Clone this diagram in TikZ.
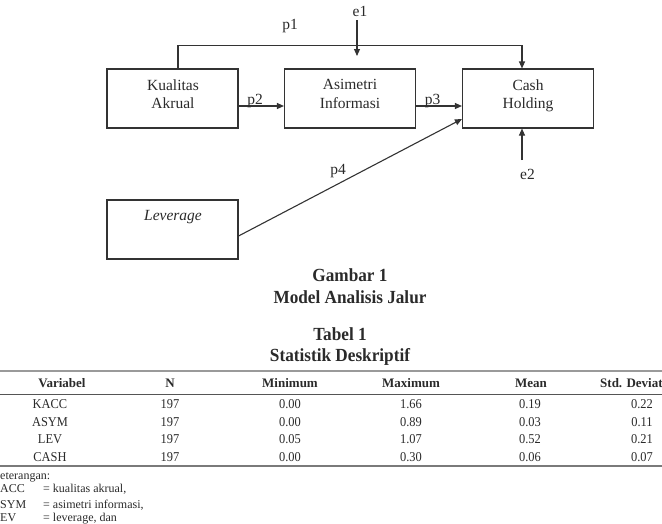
\documentclass[tikz,border=0pt]{standalone}
\usepackage{fontspec}
\setmainfont{Liberation Serif}
\newfontfamily\titlefont[FakeStretch=0.93]{Liberation Serif}
\newfontfamily\tabfont[FakeStretch=0.92]{Liberation Serif}
\usetikzlibrary{arrows.meta}
\definecolor{txt}{HTML}{2A2A2A}
\definecolor{ln}{HTML}{333333}
\definecolor{rulea}{HTML}{9A9A9A}
\definecolor{ruleb}{HTML}{555555}
\definecolor{rulec}{HTML}{7A7A7A}
\begin{document}
\begin{tikzpicture}[x=1pt,y=-1pt,
  every node/.style={inner sep=0pt, text=txt},
  box/.style={draw=ln, line width=1.1pt, minimum width=131pt, minimum height=59pt},
  dtext/.style={font=\fontsize{15.5}{18.5}\selectfont, align=center, anchor=north},
  lbl/.style={font=\fontsize{15.5}{18.5}\selectfont, anchor=base},
  arr/.style={draw=ln, line width=1.1pt, -{Triangle[length=7pt,width=6pt]}},
  ttl/.style={font=\titlefont\bfseries\fontsize{18.5}{20}\selectfont, anchor=base},
  th/.style={font=\bfseries\fontsize{13}{15}\selectfont, anchor=base},
  tc/.style={font=\tabfont\fontsize{13.5}{15}\selectfont, anchor=base},
  kt/.style={font=\fontsize{12}{14}\selectfont, anchor=base west}
]
\useasboundingbox (0,0) rectangle (662,523);
\clip (0,0) rectangle (662,523);

% boxes
\node[box] (kual) at (172.5,98.5) {};
\node[box] (asim) at (350,98.5) {};
\node[box] (cash) at (528,98.5) {};
\node[box] (lev)  at (172.5,229.5) {};

\node[dtext] (kualt) at (173,79.5) {Kualitas\\Akrual};
\node[dtext] (asimt) at (350,79.5) {Asimetri\\Informasi};
\node[dtext] (casht) at (528,79.5) {Cash\\Holding};
\node[dtext] (levt)  at (173,210) {\itshape Leverage};

% connectors
\draw[arr] ([xshift=5.5pt]kual.north) -- ++(0,-23) -| ([xshift=-6pt]cash.north);
\draw[arr] ([yshift=-7.5pt]kual.east) -- ([yshift=-7.5pt]asim.west);
\draw[arr] ([yshift=-7.5pt]asim.east) -- ([yshift=-7.5pt]cash.west);
\draw[arr] ([yshift=-6.5pt]lev.east) -- ([yshift=-20.5pt]cash.west);

\node[lbl] (e1) at (360,16.7) {e1};
\coordinate (e1s) at (357,20);
\coordinate (e1e) at (357,56);
\draw[arr] (e1s) -- (e1e);

\node[lbl] (e2) at (527.5,179.3) {e2};
\coordinate (e2s) at (522,160);
\draw[arr] (e2s) -- ([xshift=-6pt]cash.south);

\node[lbl] (p1) at (290,29) {p1};
\node[lbl] (p2) at (255,104.5) {p2};
\node[lbl] (p3) at (432.5,104.5) {p3};
\node[lbl] (p4) at (338,174.3) {p4};

% captions
\node[ttl] (g1) at (350,281.5) {Gambar 1};
\node[ttl] (g2) at (350,303) {Model Analisis Jalur};
\node[ttl] (t1) at (340,340) {Tabel 1};
\node[ttl] (t2) at (340,361.5) {Statistik Deskriptif};

% table rules
\draw[rulea, line width=1.4pt] (0,371) -- (662,371);
\draw[ruleb, line width=0.9pt] (0,394) -- (662,394);
\draw[rulec, line width=1.8pt] (0,466) -- (662,466);

% header
\node[th] (hv) at (62,387.3) {Variabel};
\node[th] (hn) at (170,387.3) {N};
\node[th] (hmin) at (290,387.3) {Minimum};
\node[th] (hmax) at (411,387.3) {Maximum};
\node[th] (hmean) at (531,387.3) {Mean};
\node[th, anchor=base west] (hsd) at (600,387.3) {Std. Deviat};

% rows
\foreach \v/\n/\mi/\ma/\me/\sd [count=\r] in
  {KACC/197/0.00/1.66/0.19/0.22, ASYM/197/0.00/0.89/0.03/0.11,
   LEV/197/0.05/1.07/0.52/0.21, CASH/197/0.00/0.30/0.06/0.07} {
  \pgfmathsetmacro\yy{408.3+(\r-1)*17.8}
  \node[tc] (v\r) at (50,\yy) {\v};
  \node[tc] (n\r) at (170,\yy) {\n};
  \node[tc] (mi\r) at (290,\yy) {\mi};
  \node[tc] (ma\r) at (411,\yy) {\ma};
  \node[tc] (me\r) at (530,\yy) {\me};
  \node[tc] (sd\r) at (642,\yy) {\sd};
}

% notes
\node[kt] (k0) at (0,479) {eterangan:};
\node[kt] (k1) at (0,492.5) {ACC};
\node[kt] (k1b) at (43,492.5) {= kualitas akrual,};
\node[kt] (k2) at (0,508.5) {SYM};
\node[kt] (k2b) at (43,508.5) {= asimetri informasi,};
\node[kt] (k3) at (0,521.5) {EV};
\node[kt] (k3b) at (43,521.5) {= leverage, dan};
\end{tikzpicture}
\end{document}
